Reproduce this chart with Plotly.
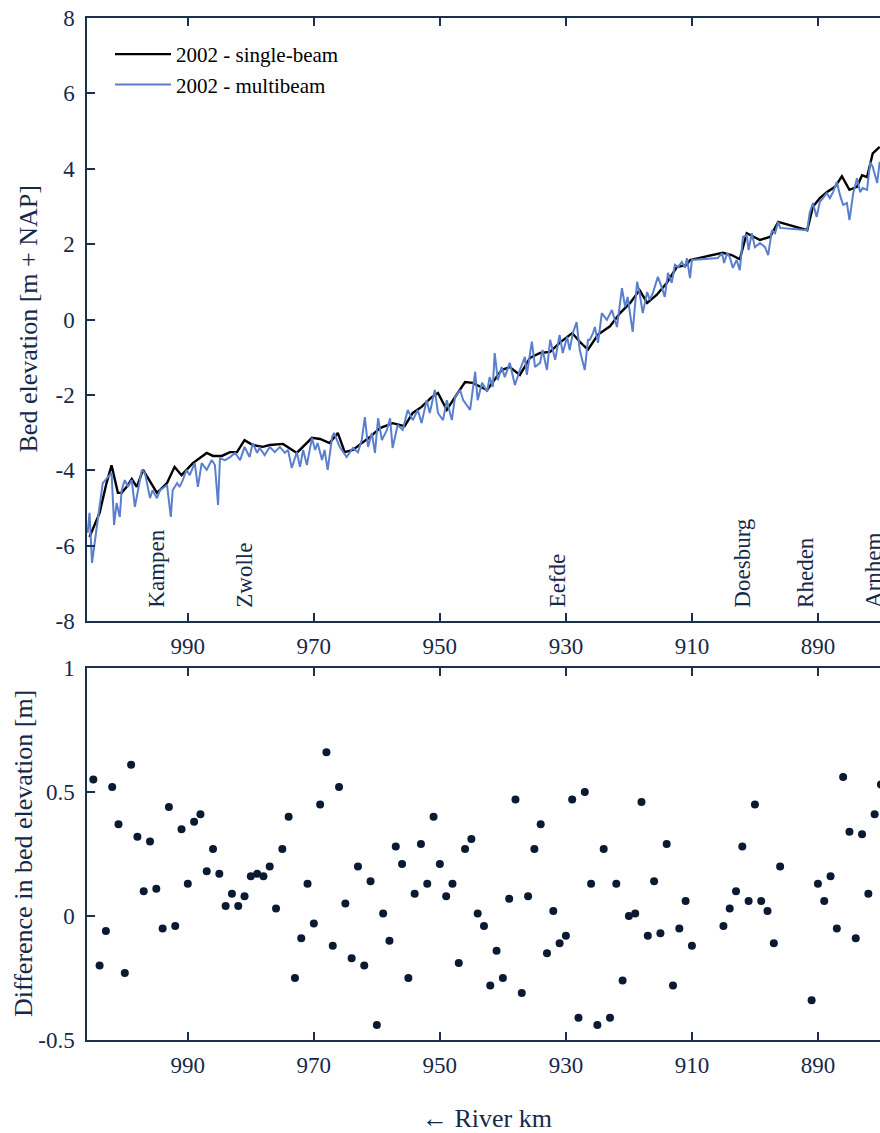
import plotly.graph_objects as go

# ---------------- data ----------------
sb_km = [1005.6, 1004.0, 1002.9, 1002.1, 1001.1, 1000.5, 999.7, 998.9, 998.1, 997.1,
         994.9, 993.3, 992.1, 991.0, 989.2, 987.0, 986.0, 984.6, 983.3, 982.2,
         981.0, 979.7, 978.1, 977.0, 974.9, 973.8, 972.7, 970.3, 969.0, 967.5,
         966.2, 965.1, 963.8, 962.4, 961.1, 959.5, 957.5, 955.6, 954.3, 952.9,
         951.3, 950.3, 948.9, 947.6, 946.0, 944.8, 942.5, 940.2, 938.9, 937.3,
         935.7, 934.1, 932.5, 931.0, 929.0, 927.8, 926.5, 924.9, 923.0, 921.4,
         919.8, 918.3, 917.1, 915.6, 914.0, 912.4, 910.8, 910.3, 905.1, 903.7,
         902.4, 901.3, 899.2, 897.6, 896.3, 891.7, 890.8, 889.7, 888.6, 887.3,
         886.2, 885.0, 883.8, 883.0, 882.2, 881.3, 880.2]
sb_z = [-5.77, -5.13, -4.34, -3.87, -4.60, -4.60, -4.44, -4.23, -4.44, -3.99,
        -4.60, -4.34, -3.91, -4.13, -3.81, -3.54, -3.62, -3.62, -3.52, -3.52,
        -3.20, -3.33, -3.38, -3.33, -3.30, -3.41, -3.54, -3.14, -3.17, -3.28,
        -3.01, -3.52, -3.46, -3.28, -3.12, -2.88, -2.75, -2.83, -2.48, -2.32,
        -2.06, -1.95, -2.40, -2.06, -1.66, -1.68, -1.87, -1.34, -1.26, -1.47,
        -1.02, -0.89, -0.86, -0.62, -0.36, -0.59, -0.80, -0.40, -0.18, 0.17,
        0.44, 0.78, 0.44, 0.65, 0.97, 1.39, 1.45, 1.58, 1.77, 1.71,
        1.60, 2.29, 2.11, 2.19, 2.59, 2.37, 2.99, 3.22, 3.38, 3.52,
        3.80, 3.44, 3.52, 3.83, 3.78, 4.41, 4.58]

mb_km = [1005.9, 1005.6, 1005.2, 1004.9, 1004.3, 1003.5, 1002.7, 1002.1, 1001.7, 1001.3,
         1000.8, 1000.5, 1000.0, 999.5, 998.9, 998.4, 997.9, 997.3, 996.8, 996.0,
         995.6, 994.9, 994.4, 994.0, 993.3, 992.7, 992.4, 991.7, 991.3, 990.8,
         990.2, 989.7, 988.9, 988.4, 987.8, 987.0, 986.2, 985.7, 985.2, 984.9,
         984.1, 983.3, 982.5, 981.7, 981.0, 980.2, 979.7, 979.0, 978.6, 977.8,
         977.0, 976.2, 975.4, 974.6, 974.1, 973.5, 972.7, 972.2, 971.7, 971.1,
         970.3, 969.8, 969.4, 968.7, 968.3, 967.8, 967.1, 966.8, 965.9, 964.8,
         963.8, 963.0, 962.4, 961.9, 961.4, 960.8, 960.3, 959.8, 959.2, 958.4,
         957.9, 957.5, 956.7, 955.9, 955.1, 954.3, 953.5, 952.9, 952.1, 951.6,
         950.8, 950.3, 949.5, 948.9, 948.1, 947.6, 946.8, 946.3, 945.2, 944.4,
         944.0, 943.3, 942.5, 942.1, 941.6, 941.3, 940.8, 940.2, 939.7, 938.9,
         938.1, 937.3, 936.5, 936.2, 935.4, 934.9, 934.1, 933.7, 933.0, 932.5,
         931.7, 931.0, 930.5, 929.8, 929.4, 928.9, 928.3, 927.8, 927.0, 926.5,
         926.2, 925.7, 925.4, 924.9, 924.3, 923.5, 922.7, 921.9, 921.1, 920.6,
         920.2, 919.4, 918.7, 918.3, 917.8, 917.1, 916.7, 916.2, 915.4, 914.8,
         914.3, 913.8, 913.2, 912.7, 912.2, 911.6, 911.1, 910.8, 910.3, 910.0,
         905.9, 905.2, 904.9, 904.4, 904.0, 903.5, 902.9, 902.4, 901.9, 901.3,
         901.0, 900.5, 900.0, 899.2, 898.4, 897.9, 897.3, 896.8, 896.3, 896.0,
         891.7, 891.3, 890.8, 890.2, 889.7, 889.2, 888.6, 888.1, 887.6, 887.0,
         886.5, 886.0, 885.4, 885.0, 884.4, 883.8, 883.3, 882.9, 882.2, 881.7,
         881.3, 880.6, 880.2]
mb_z = [-5.66, -5.13, -6.46, -6.04, -5.32, -4.34, -4.18, -4.07, -5.45, -4.87,
        -5.24, -4.53, -4.26, -4.44, -4.26, -4.97, -4.53, -3.99, -4.07, -4.74,
        -4.53, -4.74, -4.53, -4.47, -4.39, -5.24, -4.53, -4.34, -4.44, -4.26,
        -3.99, -4.13, -3.81, -4.44, -3.81, -3.99, -3.73, -3.86, -4.92, -3.68,
        -3.73, -3.65, -3.54, -3.73, -3.38, -3.65, -3.28, -3.54, -3.41, -3.60,
        -3.38, -3.52, -3.38, -3.54, -3.46, -3.94, -3.52, -3.91, -3.46, -3.86,
        -3.14, -3.46, -3.28, -3.73, -3.46, -3.99, -3.12, -3.01, -3.38, -3.65,
        -3.41, -3.52, -3.20, -2.59, -3.38, -3.01, -3.54, -2.62, -3.20, -2.93,
        -2.62, -3.41, -2.80, -2.93, -2.40, -2.67, -2.40, -2.75, -2.14, -2.48,
        -1.87, -2.48, -2.67, -2.14, -2.67, -2.06, -1.87, -2.14, -2.40, -1.39,
        -2.14, -1.68, -1.92, -1.53, -1.79, -0.89, -1.61, -1.26, -1.53, -1.15,
        -1.74, -1.34, -0.99, -1.47, -0.59, -1.26, -1.15, -0.81, -1.34, -0.54,
        -1.07, -0.41, -0.89, -0.46, -0.81, -0.36, -0.07, -0.81, -1.34, -0.54,
        -0.54, -0.36, -0.20, -0.62, 0.17, -0.01, 0.25, -0.20, 0.83, 0.33,
        0.60, -0.33, 1.00, 0.70, 0.17, 0.73, 0.52, 0.70, 1.13, 0.86,
        0.60, 1.24, 0.97, 1.45, 1.39, 1.53, 1.37, 1.63, 1.10, 1.58,
        1.63, 1.76, 1.50, 1.76, 1.66, 1.37, 1.58, 1.31, 2.19, 2.24,
        1.84, 2.29, 1.92, 2.03, 1.92, 1.71, 2.37, 2.29, 2.59, 2.43,
        2.37, 2.83, 3.09, 2.72, 3.12, 3.22, 3.35, 3.22, 3.38, 3.65,
        3.30, 3.04, 3.09, 2.64, 3.35, 3.75, 3.38, 3.49, 3.44, 4.18,
        4.05, 3.62, 4.18]

diff_km = [1005, 1004, 1003, 1002, 1001, 1000, 999, 998, 997, 996,
           995, 994, 993, 992, 991, 990, 989, 988, 987, 986,
           985, 984, 983, 982, 981, 980, 979, 978, 977, 976,
           975, 974, 973, 972, 971, 970, 969, 968, 967, 966,
           965, 964, 963, 962, 961, 960, 959, 958, 957, 956,
           955, 954, 953, 952, 951, 950, 949, 948, 947, 946,
           945, 944, 943, 942, 941, 940, 939, 938, 937, 936,
           935, 934, 933, 932, 931, 930, 929, 928, 927, 926,
           925, 924, 923, 922, 921, 920, 919, 918, 917, 916,
           915, 914, 913, 912, 911, 910, 905, 904, 903, 902,
           901, 900, 899, 898, 897, 896, 891, 890, 889, 888,
           887, 886, 885, 884, 883, 882, 881, 880]
diff_val = [0.55, -0.20, -0.06, 0.52, 0.37, -0.23, 0.61, 0.32, 0.10, 0.30,
            0.11, -0.05, 0.44, -0.04, 0.35, 0.13, 0.38, 0.41, 0.18, 0.27,
            0.17, 0.04, 0.09, 0.04, 0.08, 0.16, 0.17, 0.16, 0.20, 0.03,
            0.27, 0.40, -0.25, -0.09, 0.13, -0.03, 0.45, 0.66, -0.12, 0.52,
            0.05, -0.17, 0.20, -0.20, 0.14, -0.44, 0.01, -0.10, 0.28, 0.21,
            -0.25, 0.09, 0.29, 0.13, 0.40, 0.21, 0.08, 0.13, -0.19, 0.27,
            0.31, 0.01, -0.04, -0.28, -0.14, -0.25, 0.07, 0.47, -0.31, 0.08,
            0.27, 0.37, -0.15, 0.02, -0.11, -0.08, 0.47, -0.41, 0.50, 0.13,
            -0.44, 0.27, -0.41, 0.13, -0.26, 0.00, 0.01, 0.46, -0.08, 0.14,
            -0.07, 0.29, -0.28, -0.05, 0.06, -0.12, -0.04, 0.03, 0.10, 0.28,
            0.06, 0.45, 0.06, 0.02, -0.11, 0.20, -0.34, 0.13, 0.06, 0.16,
            -0.05, 0.56, 0.34, -0.09, 0.33, 0.09, 0.41, 0.53]

cities = ["Kampen", "Zwolle", "Eefde", "Doesburg", "Rheden", "Arnhem"]
city_km = [994.9, 981.0, 931.3, 901.9, 892.1, 881.3]

x_ticks = [990, 970, 950, 930, 910, 890]
y1_ticks = [-8, -6, -4, -2, 0, 2, 4, 6, 8]
y1_labels = ["-8", "-6", "-4", "-2", "0", "2", "4", "6", "8"]
y2_ticks = [-0.5, 0, 0.5, 1]
y2_labels = ["-0.5", "0", "0.5", "1"]

# ---------------- style ----------------
NAVY = "#16294a"
AX = "#1c2f4f"
FONT = "Liberation Serif, Times New Roman, Times, DejaVu Serif, serif"
W, H = 880, 1133
L = 87

fig = go.Figure()
fig.add_trace(go.Scatter(x=sb_km, y=sb_z, mode="lines", name="2002 - single-beam",
                         line=dict(color="#000000", width=2.4), xaxis="x", yaxis="y"))
fig.add_trace(go.Scatter(x=mb_km, y=mb_z, mode="lines", name="2002 - multibeam",
                         line=dict(color="#5a7fcd", width=2.0), xaxis="x", yaxis="y"))
fig.add_trace(go.Scatter(x=diff_km, y=diff_val, mode="markers", showlegend=False,
                         marker=dict(color="#0a1a33", size=8), xaxis="x2", yaxis="y2"))

xr = [1006.0, 880.15]
common_x = dict(range=xr, tickvals=x_ticks, ticks="inside", ticklen=8, tickwidth=1.5,
                tickcolor=AX, showline=True, linecolor=AX, linewidth=1.5, mirror="ticks",
                showgrid=False, zeroline=False, automargin=False,
                tickfont=dict(family=FONT, size=23, color=NAVY), ticklabelstandoff=4)
common_y = dict(ticks="inside", ticklen=8, tickwidth=1.5, tickcolor=AX, showline=True,
                linecolor=AX, linewidth=1.5, mirror=False, showgrid=False, zeroline=False,
                automargin=False, tickfont=dict(family=FONT, size=23, color=NAVY),
                ticklabelstandoff=6)

def py(p):
    return 1 - p / H

def px(p):
    return (p - L) / (W - L)

fig.update_layout(
    width=W, height=H,
    margin=dict(l=L, r=0, t=0, b=0, autoexpand=False),
    paper_bgcolor="white", plot_bgcolor="white",
    font=dict(family=FONT, color=NAVY),
    xaxis=dict(domain=[0, 1], anchor="y", **common_x),
    yaxis=dict(domain=[py(621), py(18)], anchor="x", range=[-8, 8],
               tickvals=y1_ticks, ticktext=y1_labels, **common_y),
    xaxis2=dict(domain=[0, 1], anchor="y2", **common_x),
    yaxis2=dict(domain=[py(1040), py(668)], anchor="x2", range=[-0.5, 1],
                tickvals=y2_ticks, ticktext=y2_labels, **common_y),
    legend=dict(x=px(110), y=py(34), xanchor="left", yanchor="top", itemwidth=56,
                bgcolor="rgba(0,0,0,0)", font=dict(family=FONT, size=21, color="#000000"),
                tracegroupgap=0),
    showlegend=True,
)

ann = []
for name, km in zip(cities, city_km):
    ann.append(dict(x=km, y=-7.7, xref="x", yref="y", text=name, showarrow=False,
                    textangle=-90, xanchor="center", yanchor="bottom",
                    font=dict(family=FONT, size=23, color=NAVY)))
ann.append(dict(x=px(28), y=py(319.5), xref="paper", yref="paper",
                text="Bed elevation [m + NAP]", showarrow=False, textangle=-90,
                xanchor="center", yanchor="middle", font=dict(family=FONT, size=26, color=NAVY)))
ann.append(dict(x=px(23), y=py(854), xref="paper", yref="paper",
                text="Difference in bed elevation [m]", showarrow=False, textangle=-90,
                xanchor="center", yanchor="middle", font=dict(family=FONT, size=26, color=NAVY)))
ann.append(dict(x=px(487), y=py(1118), xref="paper", yref="paper",
                text="\u2190 River km", showarrow=False,
                xanchor="center", yanchor="middle", font=dict(family=FONT, size=26, color=NAVY)))
fig.update_layout(annotations=ann)

fig.write_html("out.html")
